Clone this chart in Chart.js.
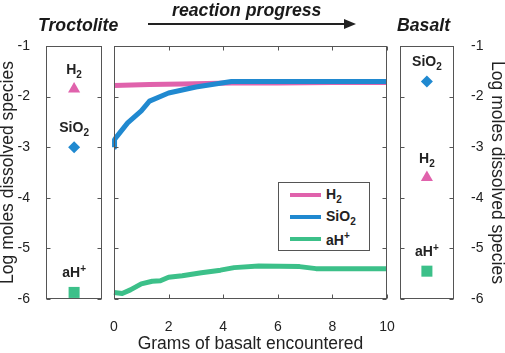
<!DOCTYPE html>
<html lang="en">
<head>
<meta charset="UTF-8" />
<script src="https://cdn.jsdelivr.net/npm/chart.js"></script>
<title>Reaction progress</title>
<style>
  body { margin: 0; background: #fff; font-family: "Liberation Sans", Arial, sans-serif; }
  #wrap { position: relative; width: 505px; height: 353px; overflow: hidden; }
  canvas { position: absolute; top: 0; }
  .head { position: absolute; font-weight: bold; font-style: italic; font-size: 17.7px; color: #1a1a1a; white-space: nowrap; line-height: 20px; }
  #arrow { position: absolute; left: 148px; top: 23px; width: 198px; height: 0; border-top: 2px solid #222; }
  #arrowHead { position: absolute; left: 344px; top: 19px; width: 0; height: 0;
    border-top: 5px solid transparent; border-bottom: 5px solid transparent; border-left: 12px solid #222; }
  #legend { position: absolute; left: 278px; top: 182px; width: 92px; height: 69px; border: 1px solid #555;
    background: #fff; font-weight: bold; font-size: 14px; color: #222; box-sizing: border-box; padding-top: 1px; }
  #legend .row { position: relative; height: 22px; }
  #legend .sw { position: absolute; left: 11px; top: 9px; width: 31px; height: 4px; }
  #legend .lb { position: absolute; left: 47px; top: 2px; }
  #legend sub, #legend sup { font-size: 10px; }
</style>
</head>
<body>
<div id="wrap">
  <canvas id="leftChart" width="110" height="353" style="left:0"></canvas>
  <canvas id="mainChart" width="300" height="353" style="left:100px"></canvas>
  <canvas id="rightChart" width="113" height="353" style="left:392px"></canvas>
  <div class="head" style="left:38px; top:15px">Troctolite</div>
  <div class="head" style="left:172px; top:0px">reaction progress</div>
  <div class="head" style="left:397px; top:15px">Basalt</div>
  <div id="arrow"></div>
  <div id="arrowHead"></div>
  <div id="legend"></div>
</div>
<script>
  // species (markup: _ = subscript, ^ = superscript)
  const species = ['H_2', 'SiO_2', 'aH^+'];
  const speciesColors = ['#e062ac', '#2089d0', '#3cc089'];
  const markerStyles = ['triangle', 'rectRot', 'rect'];
  const markerRadius = [7, 6, 7.8];
  const drawOrder = [1, 0, 2]; // SiO2 line sits on top of H2

  // end members (log moles), same order as species
  const troctoliteValues = [-1.85, -3.0, -5.87];
  const basaltValues = [-3.6, -1.7, -5.45];

  // reaction path
  const gramsH2 = [0, 1.3, 2.5, 4.3, 6, 8, 10];
  const logH2 = [-1.78, -1.76, -1.75, -1.73, -1.73, -1.72, -1.72];
  const gramsSiO2 = [0, 0.02, 0.1, 0.5, 1.0, 1.3, 2.0, 3.0, 4.3, 6, 8, 10];
  const logSiO2 = [-3.0, -2.85, -2.79, -2.52, -2.28, -2.09, -1.93, -1.81, -1.70, -1.70, -1.70, -1.70];
  const gramsAH = [0, 0.3, 0.6, 1.0, 1.4, 1.7, 2.0, 2.5, 3.2, 3.9, 4.4, 5.3, 6.8, 7.4, 8.5, 10];
  const logAH = [-5.87, -5.89, -5.82, -5.7, -5.65, -5.64, -5.57, -5.54, -5.48, -5.43, -5.38, -5.35, -5.36, -5.4, -5.4, -5.4];

  const yTicks = [-6, -5, -4, -3, -2, -1];
  const xTicks = [0, 2, 4, 6, 8, 10];
  const yTitle = 'Log moles dissolved species';
  const xTitle = 'Grams of basalt encountered';

  const textColor = '#222';
  Chart.defaults.font.family = '"Liberation Sans", Arial, sans-serif';
  Chart.defaults.color = textColor;

  // keep chart area fixed: no extra room for overflowing labels
  const noPad = s => { s.paddingLeft = 0; s.paddingRight = 0; s.paddingTop = 0; s.paddingBottom = 0; };

  function parseFormula(s) {
    const parts = [];
    const re = /([_^])(.)|([^_^]+)/g;
    let m;
    while ((m = re.exec(s))) {
      if (m[3]) parts.push({ t: m[3], k: 'n' });
      else parts.push({ t: m[2], k: m[1] === '_' ? 'sub' : 'sup' });
    }
    return parts;
  }

  function drawFormula(ctx, s, x, y) {
    const parts = parseFormula(s);
    const big = 'bold 14px "Liberation Sans", Arial, sans-serif';
    const small = 'bold 10px "Liberation Sans", Arial, sans-serif';
    let w = 0;
    parts.forEach(p => { ctx.font = p.k === 'n' ? big : small; p.w = ctx.measureText(p.t).width; w += p.w; });
    let cx = x - w / 2;
    ctx.fillStyle = textColor;
    ctx.textAlign = 'left';
    ctx.textBaseline = 'alphabetic';
    parts.forEach(p => {
      ctx.font = p.k === 'n' ? big : small;
      const dy = p.k === 'sub' ? 4 : p.k === 'sup' ? -5 : 0;
      ctx.fillText(p.t, cx, y + 5 + dy);
      cx += p.w;
    });
  }

  // box around plot area plus inward tick marks
  const framePlugin = {
    id: 'frame',
    afterDraw(chart) {
      const { ctx, chartArea: a, scales } = chart;
      const L = Math.round(a.left) + 0.5, R = Math.round(a.right) - 0.5;
      const T = Math.round(a.top) + 0.5, B = Math.round(a.bottom) - 0.5;
      ctx.save();
      ctx.strokeStyle = '#555';
      ctx.lineWidth = 1;
      ctx.strokeRect(L, T, R - L, B - T);
      ctx.beginPath();
      const tl = 4;
      yTicks.forEach(v => {
        const py = Math.round(scales.y.getPixelForValue(v)) + 0.5;
        ctx.moveTo(L, py); ctx.lineTo(L + tl, py);
        ctx.moveTo(R, py); ctx.lineTo(R - tl, py);
      });
      if (chart.options.plugins.frame && chart.options.plugins.frame.xTicks) {
        xTicks.forEach(v => {
          const px = Math.round(scales.x.getPixelForValue(v)) + 0.5;
          ctx.moveTo(px, T); ctx.lineTo(px, T + tl);
          ctx.moveTo(px, B); ctx.lineTo(px, B - tl);
        });
      }
      ctx.stroke();
      ctx.restore();
    }
  };

  const labelPlugin = {
    id: 'speciesLabels',
    afterDatasetsDraw(chart) {
      const ctx = chart.ctx;
      ctx.save();
      chart.data.datasets.forEach((ds, i) => {
        const pt = chart.getDatasetMeta(i).data[0];
        drawFormula(ctx, species[i], pt.x, pt.y - 20);
      });
      ctx.restore();
    }
  };

  function endMemberChart(id, values, side) {
    return new Chart(document.getElementById(id), {
      type: 'scatter',
      data: {
        datasets: species.map((sp, i) => ({
          label: sp,
          data: [{ x: 0.5, y: values[i] }],
          pointStyle: markerStyles[i],
          pointRadius: markerRadius[i],
          backgroundColor: speciesColors[i],
          borderColor: speciesColors[i],
          borderWidth: 0,
          clip: false
        }))
      },
      options: {
        responsive: false,
        animation: false,
        layout: { padding: side === 'left' ? { top: 46, right: 4, bottom: 54, left: 0 } : { top: 46, right: 0, bottom: 54, left: 5 } },
        plugins: { legend: { display: false }, tooltip: { enabled: false } },
        scales: {
          x: { type: 'linear', min: 0, max: 1, display: false, afterFit: noPad },
          y: {
            position: side,
            min: -6, max: -1,
            afterFit: s => { noPad(s); s.width = side === 'left' ? 46 : 51; },
            afterBuildTicks: s => { s.ticks = yTicks.map(v => ({ value: v })); },
            grid: { display: false },
            border: { display: false },
            ticks: { padding: side === 'left' ? 8 : 9, font: { size: 14 }, color: textColor },
            title: { display: true, text: yTitle, font: { size: 17.5 }, color: textColor, padding: { top: -2, bottom: 0 } }
          }
        }
      },
      plugins: [framePlugin, labelPlugin]
    });
  }

  endMemberChart('leftChart', troctoliteValues, 'left');
  endMemberChart('rightChart', basaltValues, 'right');

  const pathGrams = [gramsH2, gramsSiO2, gramsAH];
  const pathLogs = [logH2, logSiO2, logAH];

  new Chart(document.getElementById('mainChart'), {
    type: 'line',
    data: {
      datasets: species.map((sp, i) => ({
        label: sp,
        data: pathGrams[i].map((g, j) => ({ x: g, y: pathLogs[i][j] })),
        borderColor: speciesColors[i],
        backgroundColor: speciesColors[i],
        borderWidth: 5,
        pointRadius: 0,
        tension: 0,
        borderJoinStyle: 'round',
        order: drawOrder[i],
        clip: false
      }))
    },
    options: {
      responsive: false,
      animation: false,
      layout: { padding: { top: 46, right: 13, bottom: 0, left: 14 } },
      plugins: { legend: { display: false }, tooltip: { enabled: false }, frame: { xTicks: true } },
      scales: {
        x: {
          type: 'linear', min: 0, max: 10,
          afterFit: s => { noPad(s); s.height = 54; },
          afterBuildTicks: s => { s.ticks = xTicks.map(v => ({ value: v })); },
          grid: { display: false },
          border: { display: false },
          ticks: { padding: 12, font: { size: 14 }, color: textColor, maxRotation: 0 },
          title: { display: true, text: xTitle, font: { size: 17.5 }, color: textColor, padding: { top: 0, bottom: -2 } }
        },
        y: { min: -6, max: -1, display: false, afterFit: noPad }
      }
    },
    plugins: [framePlugin]
  });

  // legend built from the same species list
  const fmt = s => s.replace(/_(.)/g, '<sub>$1</sub>').replace(/\^(.)/g, '<sup>$1</sup>');
  document.getElementById('legend').innerHTML = species.map((sp, i) =>
    '<div class="row"><span class="sw" style="background:' + speciesColors[i] + '"></span><span class="lb">' + fmt(sp) + '</span></div>'
  ).join('');
</script>
</body>
</html>
